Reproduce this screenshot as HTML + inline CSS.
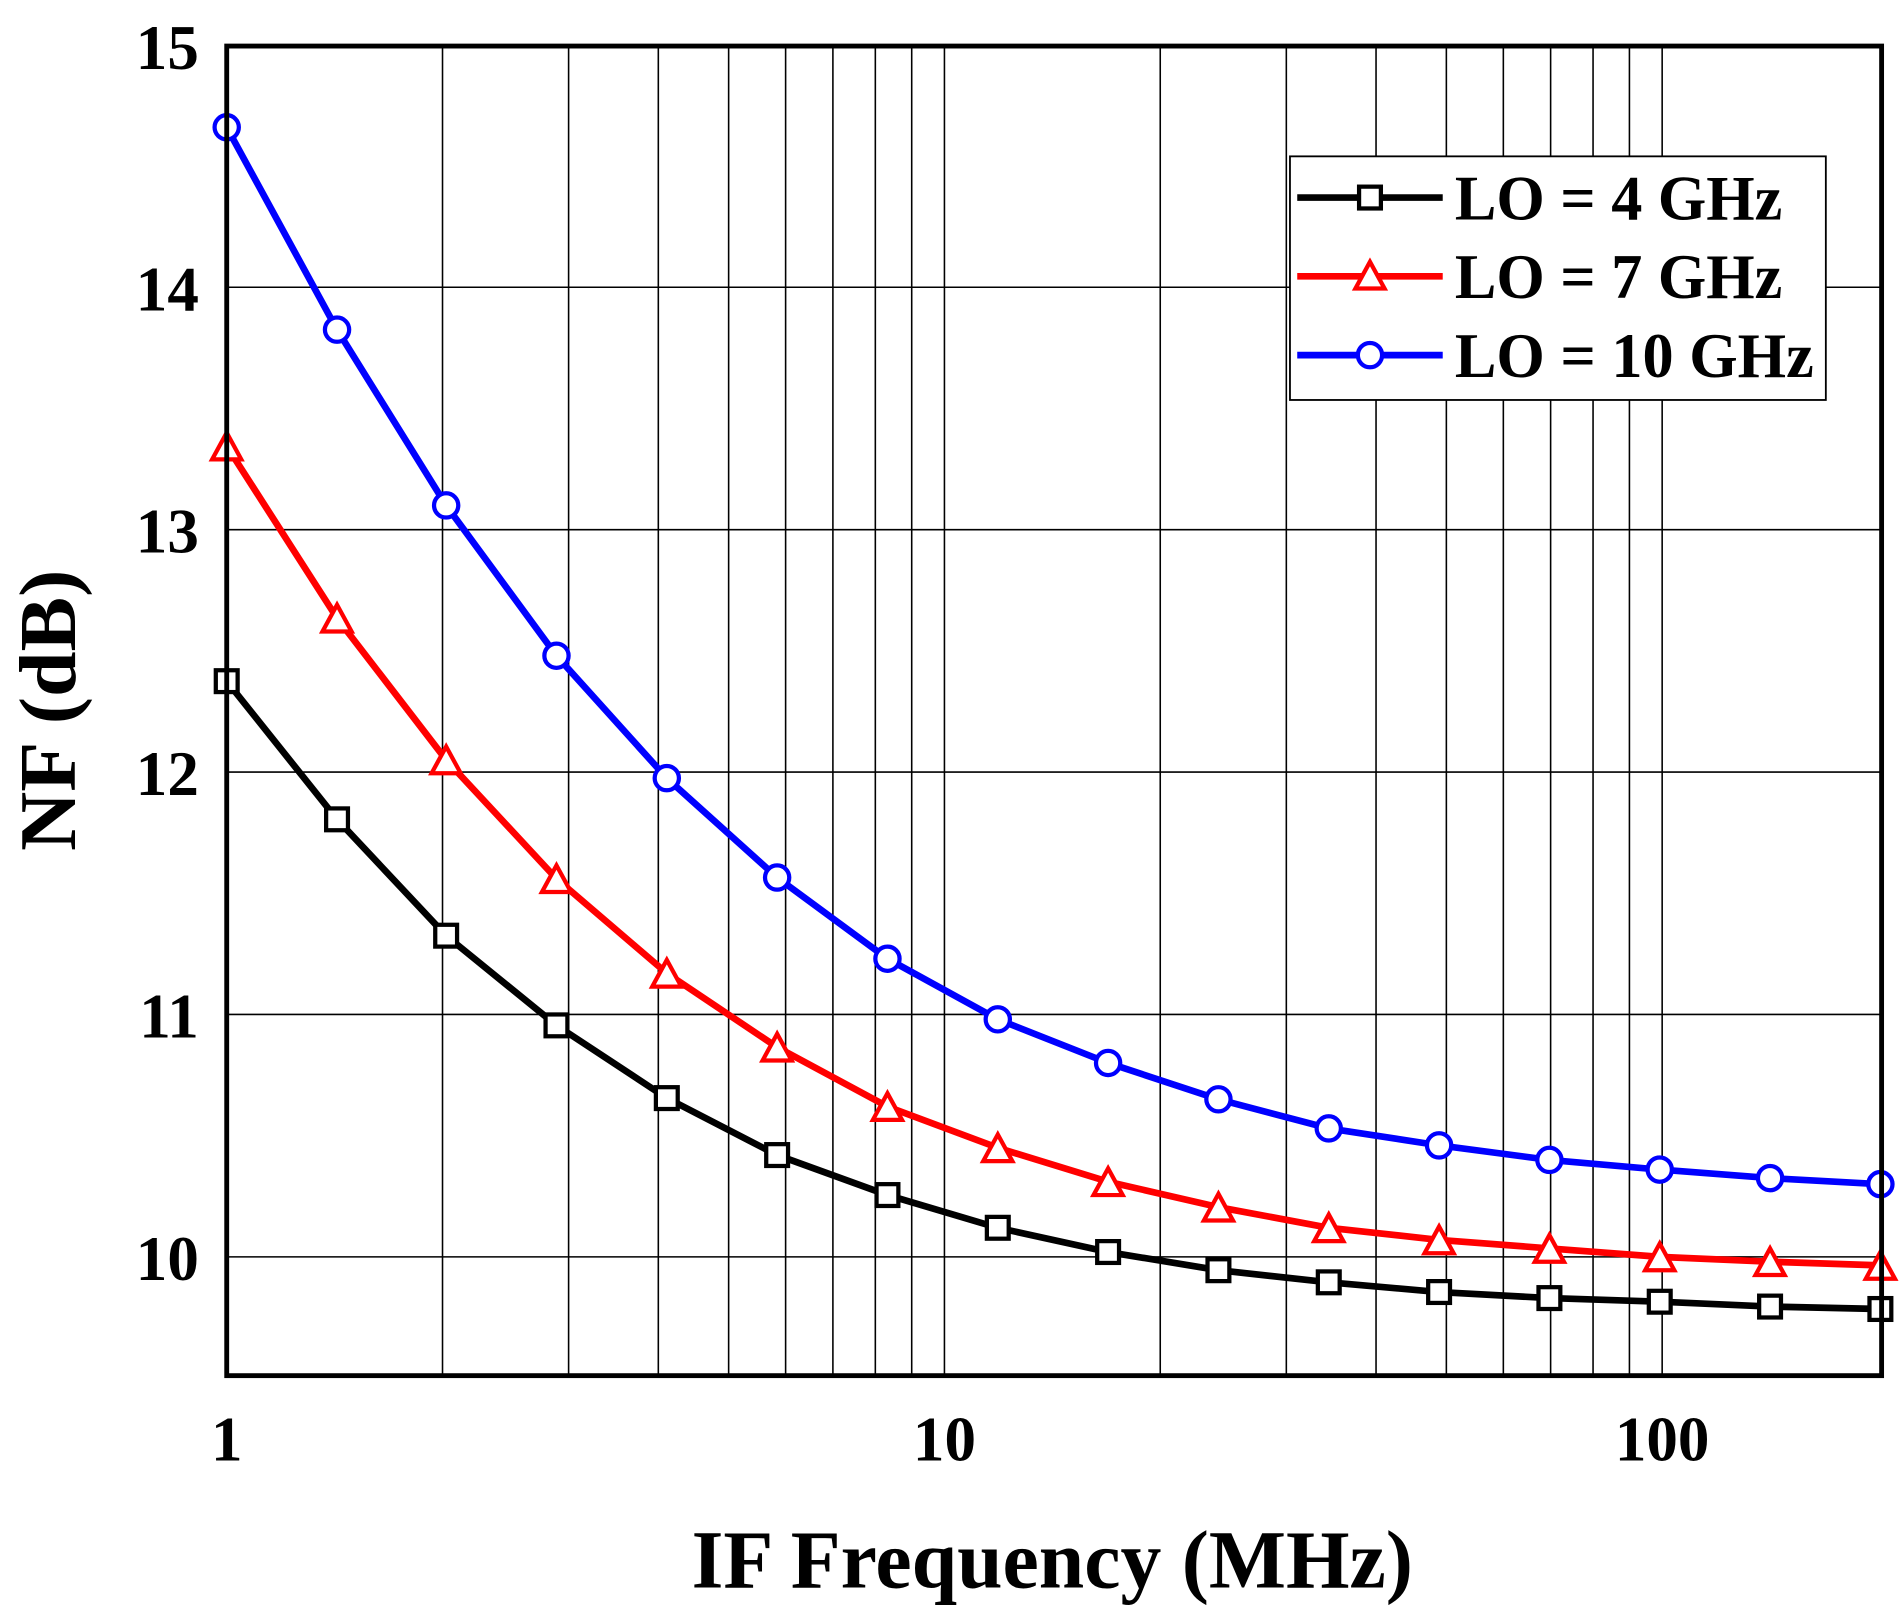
<!DOCTYPE html>
<html><head><meta charset="utf-8"><style>html,body{margin:0;padding:0;background:#fff}svg{display:block}</style></head>
<body>
<svg width="1901" height="1612" viewBox="0 0 1568 1330" preserveAspectRatio="none" xmlns="http://www.w3.org/2000/svg" font-family="Liberation Serif, serif" font-weight="bold">
<rect width="1568" height="1330" fill="#fff"/>
<g stroke="#000" stroke-width="1.3">
<line x1="365" y1="38" x2="365" y2="1135"/><line x1="469" y1="38" x2="469" y2="1135"/><line x1="543" y1="38" x2="543" y2="1135"/><line x1="601" y1="38" x2="601" y2="1135"/><line x1="648" y1="38" x2="648" y2="1135"/><line x1="687" y1="38" x2="687" y2="1135"/><line x1="722" y1="38" x2="722" y2="1135"/><line x1="752" y1="38" x2="752" y2="1135"/><line x1="779" y1="38" x2="779" y2="1135"/>
<line x1="957" y1="38" x2="957" y2="1135"/><line x1="1061" y1="38" x2="1061" y2="1135"/><line x1="1135" y1="38" x2="1135" y2="1135"/><line x1="1193" y1="38" x2="1193" y2="1135"/><line x1="1240" y1="38" x2="1240" y2="1135"/><line x1="1279" y1="38" x2="1279" y2="1135"/><line x1="1314" y1="38" x2="1314" y2="1135"/><line x1="1344" y1="38" x2="1344" y2="1135"/><line x1="1371" y1="38" x2="1371" y2="1135"/>
<line x1="187" y1="237" x2="1552" y2="237"/><line x1="187" y1="437" x2="1552" y2="437"/><line x1="187" y1="637" x2="1552" y2="637"/><line x1="187" y1="837" x2="1552" y2="837"/><line x1="187" y1="1037" x2="1552" y2="1037"/>
</g>
<g fill="none" stroke-width="5.5" stroke-linejoin="round">
<polyline stroke="#000" points="187,562 278,676 368,772 459,846 550,906 641,953 732,986 823,1013 914,1033 1005,1048 1096,1058 1187,1066 1278,1071 1369,1074 1460,1078 1551,1080"/>
<polyline stroke="#f00" points="187,368 278,510 368,627 459,725 550,803 641,864 732,913 823,947 914,975 1005,996 1096,1013 1187,1023 1278,1030 1369,1037 1460,1041 1551,1044"/>
<polyline stroke="#00f" points="187,105 278,272 368,417 459,541 550,642 641,724 732,791 823,841 914,877 1005,907 1096,931 1187,945 1278,957 1369,965 1460,972 1551,977"/>
</g>
<g fill="#fff" stroke="#000" stroke-width="3.5">
<rect x="178" y="553" width="18" height="18"/><rect x="269" y="667" width="18" height="18"/><rect x="359" y="763" width="18" height="18"/><rect x="450" y="837" width="18" height="18"/><rect x="541" y="897" width="18" height="18"/><rect x="632" y="944" width="18" height="18"/><rect x="723" y="977" width="18" height="18"/><rect x="814" y="1004" width="18" height="18"/><rect x="905" y="1024" width="18" height="18"/><rect x="996" y="1039" width="18" height="18"/><rect x="1087" y="1049" width="18" height="18"/><rect x="1178" y="1057" width="18" height="18"/><rect x="1269" y="1062" width="18" height="18"/><rect x="1360" y="1065" width="18" height="18"/><rect x="1451" y="1069" width="18" height="18"/><rect x="1542" y="1071" width="18" height="18"/>
</g>
<g fill="#fff" stroke="#f00" stroke-width="3.5">
<polygon points="187,357 175,379 199,379"/><polygon points="278,499 266,521 290,521"/><polygon points="368,616 356,638 380,638"/><polygon points="459,714 447,736 471,736"/><polygon points="550,792 538,814 562,814"/><polygon points="641,853 629,875 653,875"/><polygon points="732,902 720,924 744,924"/><polygon points="823,936 811,958 835,958"/><polygon points="914,964 902,986 926,986"/><polygon points="1005,985 993,1007 1017,1007"/><polygon points="1096,1002 1084,1024 1108,1024"/><polygon points="1187,1012 1175,1034 1199,1034"/><polygon points="1278,1019 1266,1041 1290,1041"/><polygon points="1369,1026 1357,1048 1381,1048"/><polygon points="1460,1030 1448,1052 1472,1052"/><polygon points="1551,1033 1539,1055 1563,1055"/>
</g>
<g fill="#fff" stroke="#00f" stroke-width="3.5">
<circle cx="187" cy="105" r="10"/><circle cx="278" cy="272" r="10"/><circle cx="368" cy="417" r="10"/><circle cx="459" cy="541" r="10"/><circle cx="550" cy="642" r="10"/><circle cx="641" cy="724" r="10"/><circle cx="732" cy="791" r="10"/><circle cx="823" cy="841" r="10"/><circle cx="914" cy="877" r="10"/><circle cx="1005" cy="907" r="10"/><circle cx="1096" cy="931" r="10"/><circle cx="1187" cy="945" r="10"/><circle cx="1278" cy="957" r="10"/><circle cx="1369" cy="965" r="10"/><circle cx="1460" cy="972" r="10"/><circle cx="1551" cy="977" r="10"/>
</g>
<rect x="187" y="38" width="1365" height="1097" fill="none" stroke="#000" stroke-width="4"/>
<rect x="1064" y="129" width="442" height="201" fill="#fff" stroke="#000" stroke-width="1.5"/>
<line x1="1070" y1="163" x2="1190" y2="163" stroke="#000" stroke-width="5.5"/><rect x="1121" y="154" width="18" height="18" fill="#fff" stroke="#000" stroke-width="3.5"/>
<line x1="1070" y1="228" x2="1190" y2="228" stroke="#f00" stroke-width="5.5"/><polygon points="1130,216 1118,238 1142,238" fill="#fff" stroke="#f00" stroke-width="3.5"/>
<line x1="1070" y1="293" x2="1190" y2="293" stroke="#00f" stroke-width="5.5"/><circle cx="1130" cy="293" r="10" fill="#fff" stroke="#00f" stroke-width="3.5"/>
<g font-size="52" fill="#000">
<text x="1200" y="181" textLength="270" lengthAdjust="spacingAndGlyphs">LO = 4 GHz</text><text x="1200" y="246" textLength="270" lengthAdjust="spacingAndGlyphs">LO = 7 GHz</text><text x="1200" y="311" textLength="296" lengthAdjust="spacingAndGlyphs">LO = 10 GHz</text>
</g>
<g font-size="52" fill="#000" text-anchor="end">
<text x="164" y="57">15</text><text x="164" y="256">14</text><text x="164" y="456">13</text><text x="164" y="656">12</text><text x="164" y="856">11</text><text x="164" y="1056">10</text>
</g>
<g font-size="52" fill="#000" text-anchor="middle">
<text x="187" y="1205">1</text><text x="779" y="1205">10</text><text x="1371" y="1205">100</text>
</g>
<text x="868" y="1310" font-size="68" text-anchor="middle" textLength="595" lengthAdjust="spacingAndGlyphs">IF Frequency (MHz)</text>
<text transform="translate(62,586) rotate(-90)" font-size="66" text-anchor="middle" textLength="232" lengthAdjust="spacingAndGlyphs">NF (dB)</text>
</svg>
</body></html>
